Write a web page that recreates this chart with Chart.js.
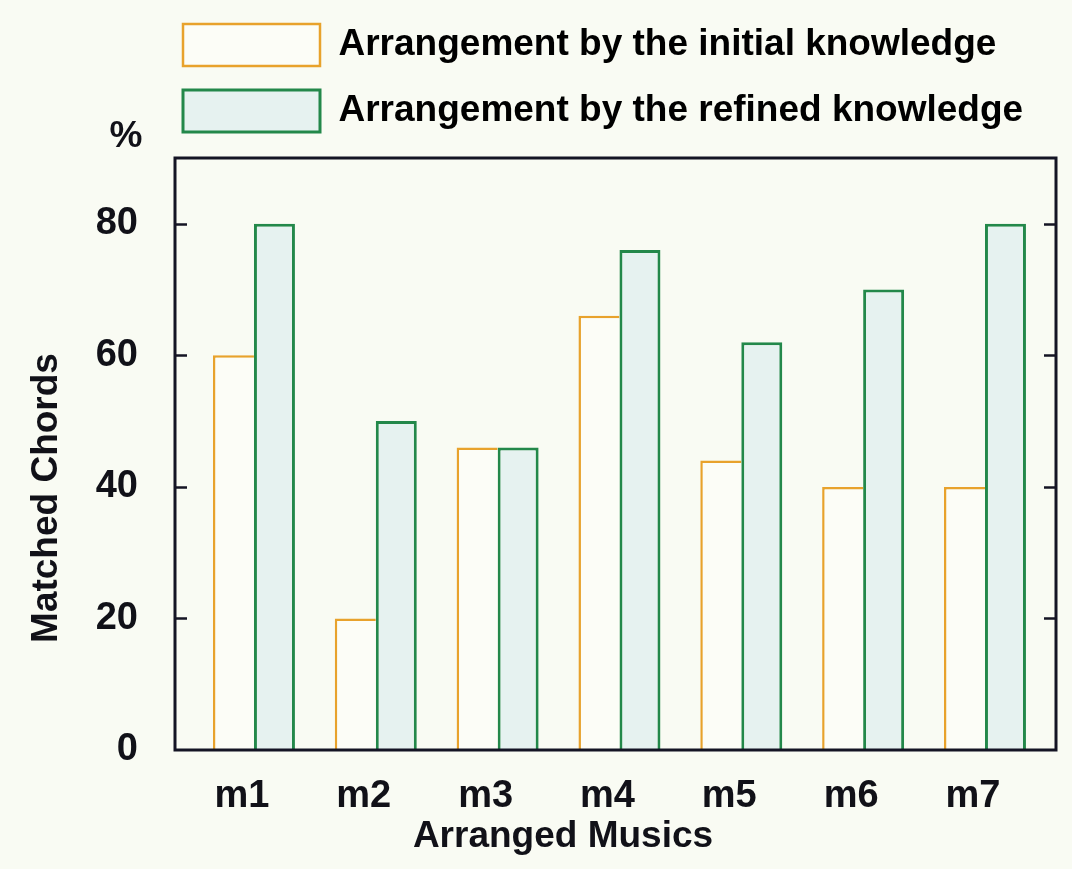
<!DOCTYPE html>
<html><head><meta charset="utf-8">
<script src="https://cdn.jsdelivr.net/npm/chart.js@4/dist/chart.umd.min.js"></script>
<style>html,body{margin:0;padding:0;background:#F9FBF3;overflow:hidden;}</style>
</head><body>
<canvas id="c" width="1072" height="869"></canvas>
<script>
const categories = ['m1', 'm2', 'm3', 'm4', 'm5', 'm6', 'm7'];
const initialKnowledge = [60, 20, 46, 66, 44, 40, 40];
const refinedKnowledge = [80, 50, 46, 76, 62, 70, 80];
const yTickValues = [0, 20, 40, 60, 80];
const seriesNames = ['Arrangement by the initial knowledge', 'Arrangement by the refined knowledge'];
const xTitle = 'Arranged Musics';
const yTitle = 'Matched Chords';
const yUnit = '%';

const FONT = '"Liberation Sans", Arial, Helvetica, sans-serif';
const BG = '#F9FBF3';
const INK = '#111118';
const TOP_PAD = 16;

const decor = {
  id: 'decor',
  beforeDraw(chart) {
    const ctx = chart.ctx;
    ctx.save();
    ctx.fillStyle = BG;
    ctx.fillRect(0, 0, chart.width, chart.height);
    ctx.restore();
  },
  afterLayout(chart) {
    const lg = chart.legend;
    if (lg) {
      lg.left = 159;
      lg.top -= TOP_PAD;
      lg.bottom -= TOP_PAD;
    }
  },
  afterDatasetsDraw(chart) {
    const ctx = chart.ctx, a = chart.chartArea, y = chart.scales.y;
    ctx.save();
    ctx.strokeStyle = '#141424';
    ctx.lineWidth = 3;
    ctx.strokeRect(a.left, a.top, a.right - a.left, a.bottom - a.top);
    ctx.lineWidth = 2.5;
    ctx.beginPath();
    yTickValues.forEach(v => {
      if (v === 0) return;
      const py = Math.round(y.getPixelForValue(v)) + 0.5;
      ctx.moveTo(a.left, py); ctx.lineTo(a.left + 12, py);
      ctx.moveTo(a.right - 12, py); ctx.lineTo(a.right, py);
    });
    ctx.stroke();

    ctx.fillStyle = INK;
    ctx.font = 'bold 37px ' + FONT;
    ctx.textAlign = 'center';
    ctx.textBaseline = 'alphabetic';
    ctx.fillText(yUnit, 126, 147);
    ctx.fillText(xTitle, 563, 847);
    ctx.translate(57, 498);
    ctx.rotate(-Math.PI / 2);
    ctx.fillText(yTitle, 0, 0);
    ctx.restore();
  }
};

const tickFont = { family: FONT, size: 38, weight: 'bold' };

new Chart(document.getElementById('c'), {
  type: 'bar',
  data: {
    datasets: [
      {
        label: seriesNames[0],
        data: initialKnowledge.map((v, i) => ({ x: i + 1, y: v })),
        backgroundColor: '#FCFDF7',
        borderColor: '#E8A22C',
        borderWidth: { top: 2.5, left: 2.5, right: 0, bottom: 0 },
        borderSkipped: false
      },
      {
        label: seriesNames[1],
        data: refinedKnowledge.map((v, i) => ({ x: i + 1, y: v })),
        backgroundColor: '#E6F2F0',
        borderColor: '#23884A',
        borderWidth: 3
      }
    ]
  },
  options: {
    responsive: false,
    animation: false,
    devicePixelRatio: 1,
    layout: { padding: { top: TOP_PAD, right: 16, bottom: 0, left: 0 } },
    datasets: { bar: { categoryPercentage: 0.673, barPercentage: 1 } },
    plugins: {
      legend: {
        position: 'top',
        align: 'start',
        labels: {
          boxWidth: 137,
          boxHeight: 42,
          padding: 24,
          color: INK,
          font: { family: FONT, size: 37, weight: 'bold' },
          generateLabels(chart) {
            return chart.data.datasets.map((d, i) => ({
              text: d.label,
              fillStyle: d.backgroundColor,
              strokeStyle: d.borderColor,
              lineWidth: i === 0 ? 2.5 : 3,
              hidden: false,
              datasetIndex: i
            }));
          }
        }
      },
      tooltip: { enabled: false }
    },
    scales: {
      x: {
        type: 'linear',
        offset: false,
        min: 0.352,
        max: 7.583,
        grid: { display: false, drawTicks: false, offset: false },
        border: { display: false },
        afterBuildTicks: s => { s.ticks = categories.map((c, i) => ({ value: i + 1 })); },
        afterFit: s => { s.height = 119; },
        ticks: {
          font: tickFont,
          color: INK,
          padding: 24,
          labelOffset: -12,
          autoSkip: false,
          maxRotation: 0,
          callback: (v) => categories[Math.round(v) - 1] || ''
        }
      },
      y: {
        min: 0,
        max: 90,
        grid: { display: false, drawTicks: false },
        border: { display: false },
        afterBuildTicks: s => { s.ticks = yTickValues.map(v => ({ value: v })); },
        afterFit: s => { s.width = 175; },
        ticks: { font: tickFont, color: INK, padding: 37 }
      }
    }
  },
  plugins: [decor]
});
</script>
</body></html>
